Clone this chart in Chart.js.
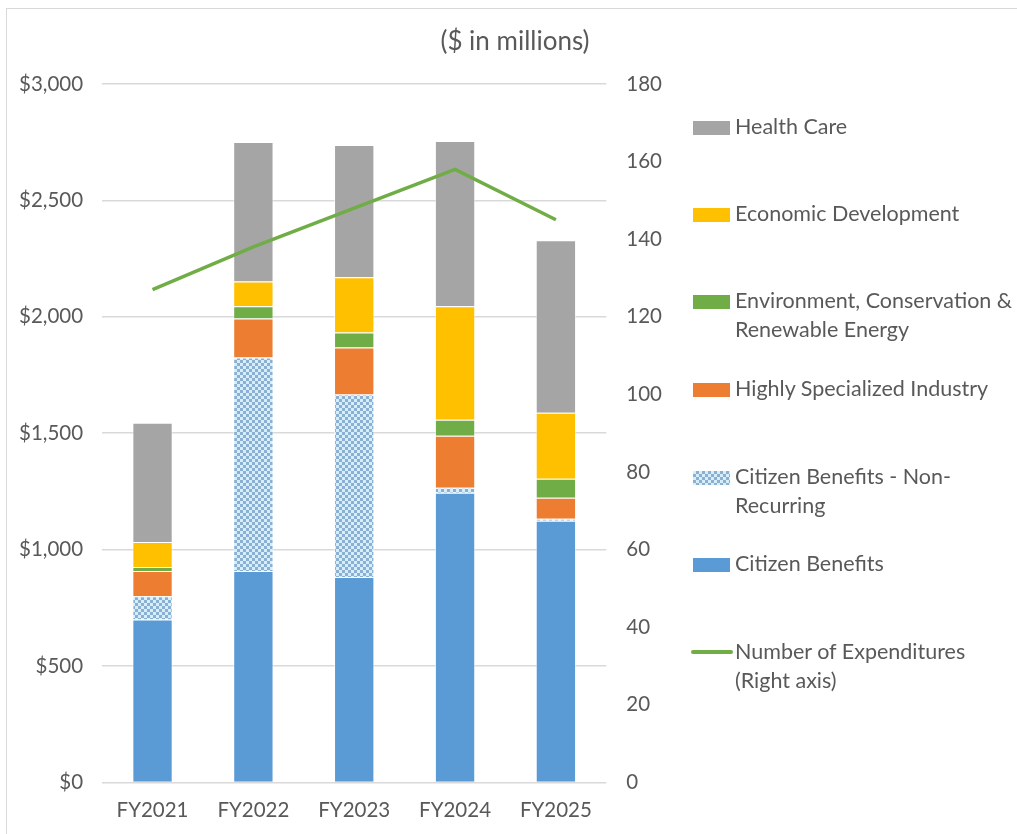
<!DOCTYPE html>
<html>
<head>
<meta charset="utf-8">
<script src="https://cdn.jsdelivr.net/npm/chart.js@4"></script>
<style>
  body { margin: 0; background: #fff; font-family: Lato, "Open Sans", sans-serif; }
  #wrap { position: relative; width: 1017px; height: 834px; }
  #frame { position: absolute; left: 6px; top: 8px; width: 1012px; height: 826px; border: 1px solid #d9d9d9; box-sizing: border-box; border-right: none; border-bottom: none; }
  #title { position: absolute; left: 0; width: 1030px; top: 24px; text-align: center; font-size: 26px; color: #595959; }
  #chart { position: absolute; left: 0; top: 0; }
  #legend { position: absolute; left: 693px; top: 0; color: #595959; font-size: 21.5px; line-height: 29px; }
  .item { position: absolute; left: 0; white-space: nowrap; }
  .sw { position: absolute; left: 0; width: 37px; height: 14px; }
  .tx { position: absolute; left: 42px; }
</style>
</head>
<body>
<div id="wrap">
  <div id="frame"></div>
  <canvas id="chart" width="1017" height="834"></canvas>
  <div id="title">($ in millions)</div>
  <div id="legend"></div>
</div>
<script>
var anni = ['FY2021', 'FY2022', 'FY2023', 'FY2024', 'FY2025'];

// valori in milioni di dollari (asse sinistro)
var citizenBenefits = [700, 908, 882, 1244, 1124];
var citizenNonRecurring = [100, 917, 784, 22, 8];
var highlySpecialized = [108, 168, 202, 223, 91];
var environment = [17, 52, 65, 69, 81];
var economicDev = [108, 107, 237, 487, 284];
var healthCare = [512, 599, 568, 710, 741];

// numero di spese (asse destro)
var numExpenditures = [127, 138, 148, 158, 145];

var leftTicks = [0, 500, 1000, 1500, 2000, 2500, 3000];
var rightTicks = [0, 20, 40, 60, 80, 100, 120, 140, 160, 180];

// motivo a scacchi per "Non-Recurring"
function creaMotivo() {
  var c = document.createElement('canvas');
  c.width = 6; c.height = 6;
  var g = c.getContext('2d');
  g.fillStyle = '#d5eef7';
  g.fillRect(0, 0, 6, 6);
  g.fillStyle = '#8bb0d3';
  g.fillRect(0, 0, 3, 3);
  g.fillRect(3, 3, 3, 3);
  return g.createPattern(c, 'repeat');
}

var ctx = document.getElementById('chart').getContext('2d');
var motivo = creaMotivo();

function barra(label, data, colore) {
  return {
    type: 'bar', label: label, data: data, backgroundColor: colore,
    borderColor: 'rgba(255,255,255,0.6)', borderWidth: 1,
    yAxisID: 'y', stack: 'a', order: 2,
    barPercentage: 0.4, categoryPercentage: 1
  };
}

var fontTick = { family: 'Lato', size: 20.5 };

var grafico = new Chart(ctx, {
  data: {
    labels: anni,
    datasets: [
      {
        type: 'line', label: 'Number of Expenditures (Right axis)', data: numExpenditures,
        borderColor: '#70ad47', borderWidth: 3.5, pointRadius: 0, tension: 0,
        yAxisID: 'y1', order: 0
      },
      barra('Citizen Benefits', citizenBenefits, '#5b9bd5'),
      barra('Citizen Benefits - Non-Recurring', citizenNonRecurring, motivo),
      barra('Highly Specialized Industry', highlySpecialized, '#ed7d31'),
      barra('Environment, Conservation & Renewable Energy', environment, '#70ad47'),
      barra('Economic Development', economicDev, '#ffc000'),
      barra('Health Care', healthCare, '#a5a5a5')
    ]
  },
  options: {
    responsive: false,
    animation: false,
    layout: { padding: { left: 0, right: 343, top: 84, bottom: 3 } },
    plugins: { legend: { display: false }, tooltip: { enabled: false } },
    scales: {
      x: {
        stacked: true,
        grid: { display: false },
        border: { display: false },
        ticks: { color: '#595959', font: fontTick, padding: 8 }
      },
      y: {
        stacked: true, min: 0, max: 3000,
        afterBuildTicks: function (ax) { ax.ticks = leftTicks.map(function (v) { return { value: v }; }); },
        grid: { color: '#d9d9d9', lineWidth: 1.5, drawTicks: false },
        border: { display: false },
        ticks: {
          color: '#595959', font: fontTick, padding: 19,
          callback: function (v) { return '$' + v.toLocaleString('en-US'); }
        }
      },
      y1: {
        position: 'right', min: 0, max: 180,
        afterBuildTicks: function (ax) { ax.ticks = rightTicks.map(function (v) { return { value: v }; }); },
        grid: { display: false },
        border: { display: false },
        ticks: { color: '#595959', font: fontTick, padding: 12 }
      }
    }
  }
});

// legenda costruita a mano (posizioni come nell'originale)
var voci = [
  { testo: 'Health Care', colore: '#a5a5a5', y: 112 },
  { testo: 'Economic Development', colore: '#ffc000', y: 199 },
  { testo: 'Environment, Conservation &amp;<br>Renewable Energy', colore: '#70ad47', y: 286 },
  { testo: 'Highly Specialized Industry', colore: '#ed7d31', y: 374 },
  { testo: 'Citizen Benefits - Non-<br>Recurring', colore: 'motivo', y: 462 },
  { testo: 'Citizen Benefits', colore: '#5b9bd5', y: 549 },
  { testo: 'Number of Expenditures<br>(Right axis)', colore: 'linea', y: 637 }
];
var leg = document.getElementById('legend');
voci.forEach(function (v) {
  var d = document.createElement('div');
  d.className = 'item';
  d.style.top = v.y + 'px';
  var sw;
  if (v.colore === 'linea') {
    sw = '<div class="sw" style="top:13px;height:4px;background:#70ad47;border-radius:2px;left:-2px;width:42px"></div>';
  } else if (v.colore === 'motivo') {
    sw = '<div class="sw" style="top:9px;background:repeating-conic-gradient(#8bb0d3 0 25%, #d5eef7 0 50%) 0 0/6px 6px"></div>';
  } else {
    sw = '<div class="sw" style="top:9px;background:' + v.colore + '"></div>';
  }
  d.innerHTML = sw + '<div class="tx">' + v.testo + '</div>';
  leg.appendChild(d);
});
</script>
</body>
</html>
